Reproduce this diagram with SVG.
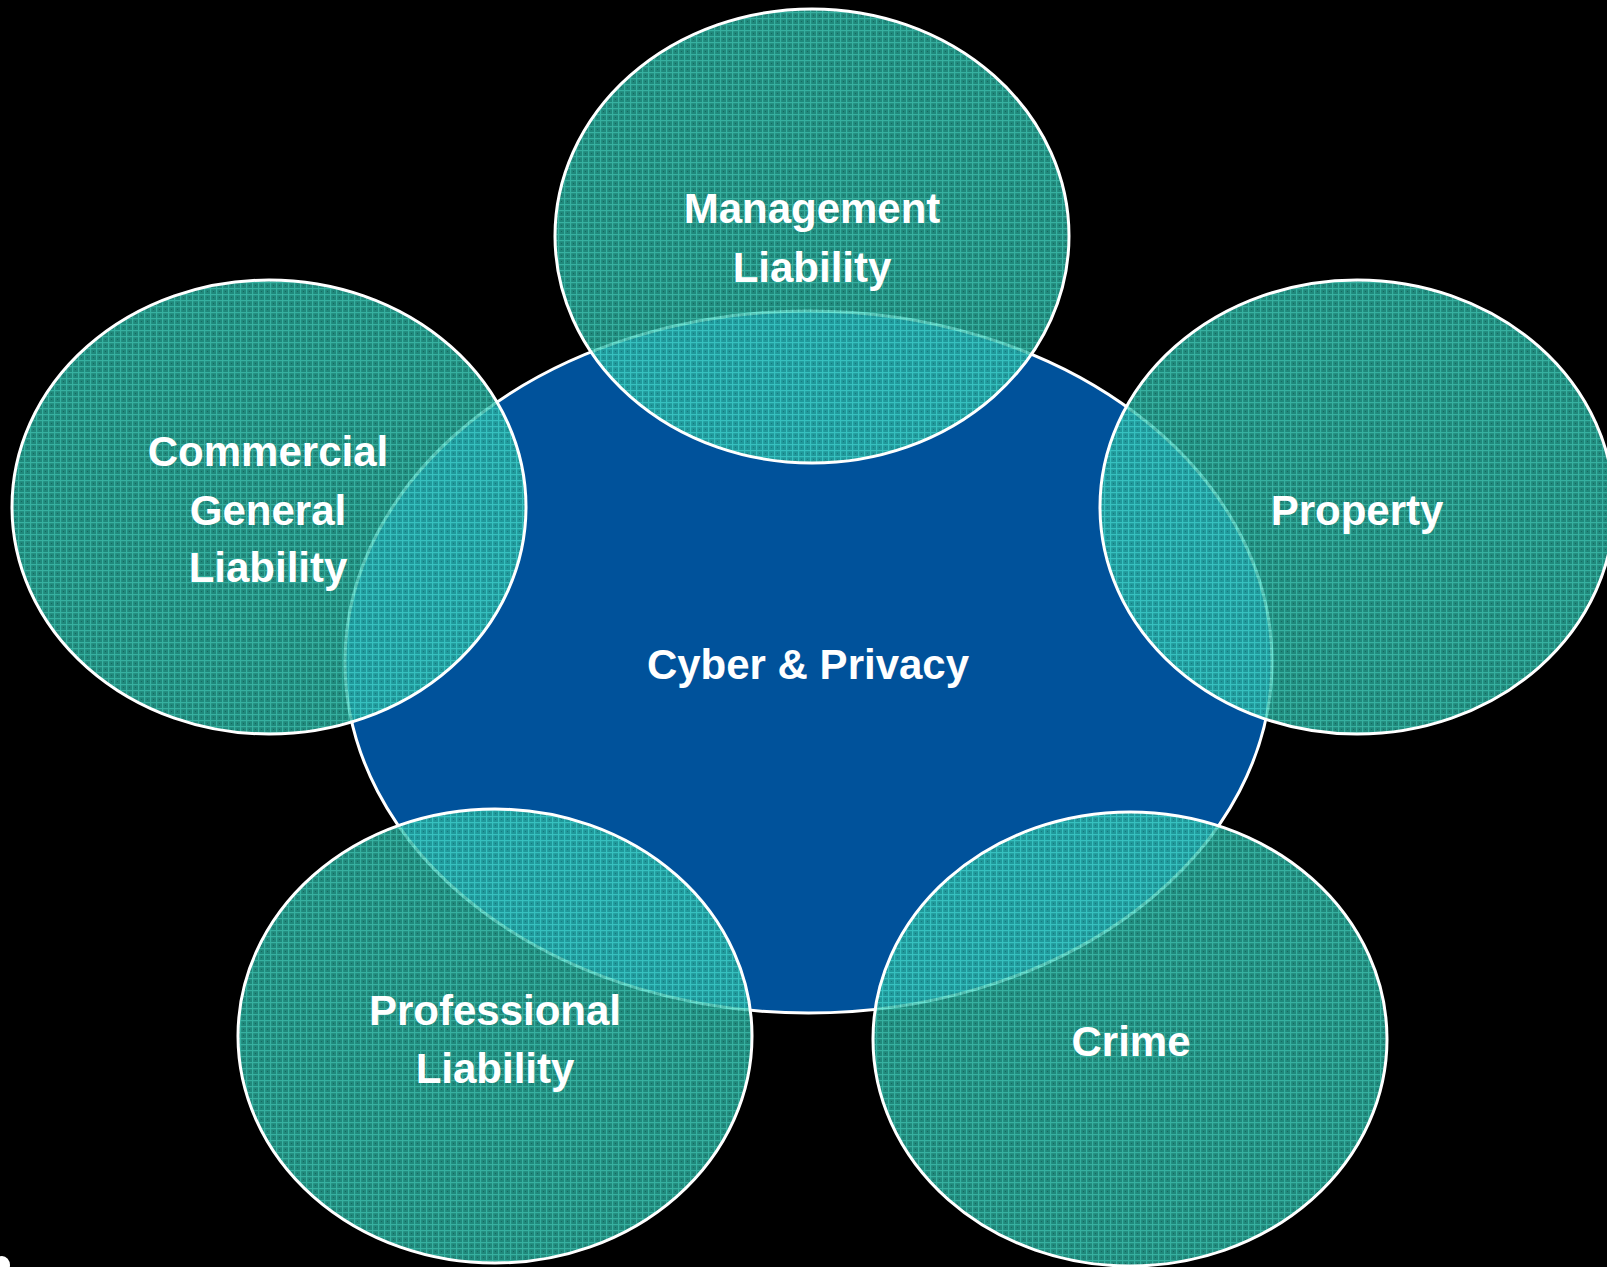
<svg xmlns="http://www.w3.org/2000/svg" width="1607" height="1267" viewBox="0 0 1607 1267">
<defs>
<pattern id="weave" width="6" height="6" patternUnits="userSpaceOnUse">
<rect width="6" height="6" fill="#28aa9a"/>
<rect x="0" y="0" width="6" height="1.2" fill="#44dcc8"/>
<rect x="0" y="0" width="1.2" height="6" fill="#44dcc8"/>
<rect x="3" y="3" width="1" height="1" fill="#1a8276"/>
</pattern>
</defs>
<style>
.bg{fill:#000}
.core{fill:#00529b;stroke:#fff;stroke-width:3}
.sat{fill:url(#weave);fill-opacity:0.8;stroke:#fff;stroke-width:3}
.lbl{font-family:"Liberation Sans",Arial,sans-serif;font-weight:bold;font-size:42px;fill:#fff;text-anchor:middle}
</style>
<rect class="bg" x="0" y="0" width="1607" height="1267"/>
<ellipse cx="2" cy="1265" rx="8" ry="9" fill="#fff"/>
<g id="connectors"></g>
<g id="cyber">
<ellipse class="core" cx="808.5" cy="662" rx="463.5" ry="351"/>
</g>
<g id="management">
<ellipse class="sat" cx="812" cy="236" rx="257" ry="227"/>
</g>
<g id="commercial">
<ellipse class="sat" cx="269" cy="507" rx="257" ry="227"/>
</g>
<g id="property">
<ellipse class="sat" cx="1357" cy="507" rx="257" ry="227"/>
</g>
<g id="professional">
<ellipse class="sat" cx="495" cy="1036" rx="257" ry="227"/>
</g>
<g id="crime">
<ellipse class="sat" cx="1130" cy="1039" rx="257" ry="227"/>
</g>
<g id="labels">
<text class="lbl" x="812" y="223">Management</text>
<text class="lbl" x="812" y="282">Liability</text>
<text class="lbl" x="268" y="466">Commercial</text>
<text class="lbl" x="268" y="525">General</text>
<text class="lbl" x="268" y="582">Liability</text>
<text class="lbl" x="1357" y="525">Property</text>
<text class="lbl" x="808" y="679">Cyber &amp; Privacy</text>
<text class="lbl" x="495" y="1025">Professional</text>
<text class="lbl" x="495" y="1083">Liability</text>
<text class="lbl" x="1131" y="1056">Crime</text>
</g>
</svg>
